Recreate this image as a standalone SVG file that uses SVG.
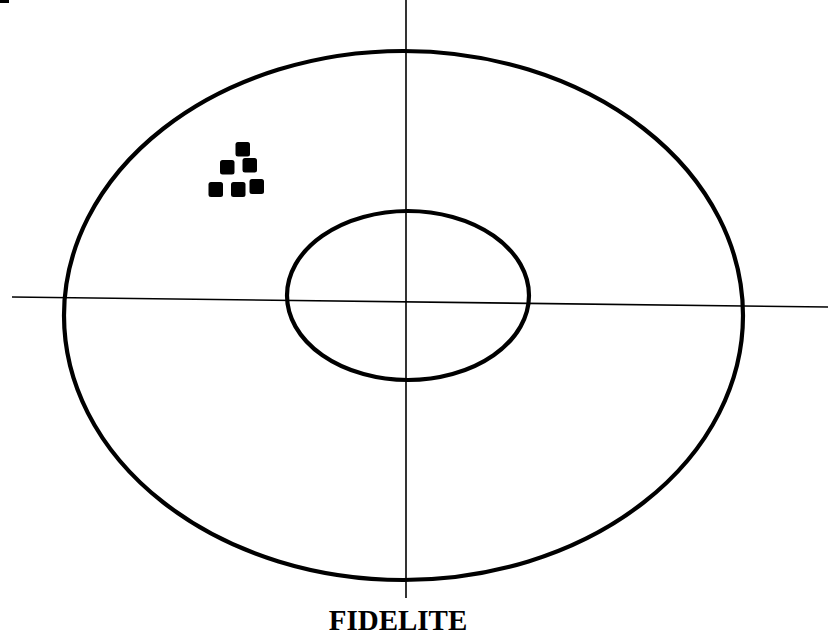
<svg xmlns="http://www.w3.org/2000/svg" width="828" height="637" viewBox="0 0 828 637">
<style>
.ring{fill:none;stroke:#000;stroke-width:4.2}
.axis{stroke:#000;stroke-width:1.6;fill:none}
.pt{fill:#000}
.lbl{font-family:"Liberation Serif","Times New Roman",serif;font-weight:bold;font-size:29px;fill:#000}
</style>
<rect x="0" y="0" width="9" height="3" fill="#000"/>
<g id="connectors">
<line class="axis" x1="406" y1="0" x2="406" y2="598"/>
<line class="axis" x1="12" y1="297" x2="828" y2="307"/>
</g>
<g id="outer-ring"><ellipse class="ring" cx="403.5" cy="315.5" rx="339.5" ry="264.5"/></g>
<g id="inner-ring"><ellipse class="ring" cx="408" cy="295.5" rx="121" ry="84.5"/></g>
<g id="points">
<rect class="pt" x="235.5" y="142" width="14.5" height="14.5" rx="2.5"/>
<rect class="pt" x="220" y="160" width="14.5" height="14.5" rx="2.5"/>
<rect class="pt" x="242.5" y="158" width="14.5" height="14.5" rx="2.5"/>
<rect class="pt" x="208.5" y="182" width="14.5" height="15" rx="2.5"/>
<rect class="pt" x="231" y="182" width="14.5" height="15" rx="2.5"/>
<rect class="pt" x="249.5" y="179" width="14.5" height="15" rx="2.5"/>
</g>
<g id="label"><text class="lbl" x="398" y="630" text-anchor="middle">FIDELITE</text></g>
</svg>
